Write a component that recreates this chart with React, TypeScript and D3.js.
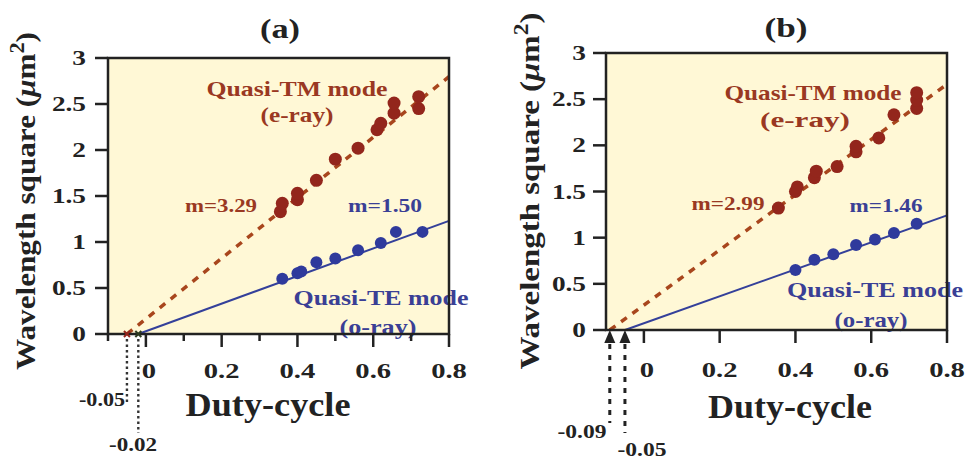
import React from "react";
import * as d3 from "d3";

const W = 967;
const H = 459;

// axis ticks
const xTicks = [0, 0.2, 0.4, 0.6, 0.8];
const xTickLabels = ["0", "0.2", "0.4", "0.6", "0.8"];
const xMinorTicksA = [-0.1, 0.1, 0.3, 0.5, 0.7];
const yTicks = [0, 0.5, 1, 1.5, 2, 2.5, 3];
const yTickLabels = ["0", "0.5", "1", "1.5", "2", "2.5", "3"];

// panel (a) data
const aTMx = [0.355, 0.36, 0.4, 0.4, 0.45, 0.5, 0.56, 0.61, 0.62, 0.655, 0.655, 0.72, 0.72];
const aTMy = [1.33, 1.42, 1.46, 1.53, 1.67, 1.9, 2.02, 2.22, 2.29, 2.4, 2.51, 2.45, 2.58];
const aTEx = [0.36, 0.4, 0.41, 0.45, 0.5, 0.56, 0.62, 0.66, 0.73];
const aTEy = [0.6, 0.66, 0.68, 0.78, 0.82, 0.91, 0.99, 1.11, 1.11];
const aFitTM = { x0: -0.05, m: 3.29 };
const aFitTE = { x0: -0.02, m: 1.5 };

// panel (b) data
const bTMx = [0.355, 0.4, 0.405, 0.45, 0.455, 0.51, 0.56, 0.56, 0.62, 0.66, 0.72, 0.72, 0.72];
const bTMy = [1.32, 1.5, 1.55, 1.65, 1.72, 1.77, 1.93, 1.99, 2.08, 2.33, 2.4, 2.49, 2.57];
const bTEx = [0.4, 0.45, 0.5, 0.56, 0.61, 0.66, 0.72];
const bTEy = [0.65, 0.76, 0.82, 0.92, 0.98, 1.05, 1.15];
const bFitTM = { x0: -0.09, m: 2.99 };
const bFitTE = { x0: -0.05, m: 1.46 };

const FONT = "Liberation Serif";
const C_TM_PT = "#93261c";
const C_TM_LINE = "#a8461d";
const C_TM_TXT = "#9a3822";
const C_TE_PT = "#2f3a9c";
const C_TE_LINE = "#34409a";
const C_TE_TXT = "#3a3f95";
const C_AX = "#222222";
const BG = "#fff8d6";

type Lab = { text: string; x: number; y: number; w: number; size: number; fill: string };

function T({ l }: { l: Lab }) {
  return (
    <text
      x={l.x}
      y={l.y}
      textAnchor="middle"
      fontFamily={FONT}
      fontWeight="bold"
      fontSize={l.size}
      fill={l.fill}
      textLength={l.w}
      lengthAdjust="spacingAndGlyphs"
    >
      {l.text}
    </text>
  );
}

type PanelProps = {
  left: number; right: number; top: number; bottom: number;
  tmx: number[]; tmy: number[]; tex: number[]; tey: number[];
  fitTM: { x0: number; m: number }; fitTE: { x0: number; m: number };
  minor: boolean;
  title: Lab; labels: Lab[]; xlab: Lab;
  ylab: { x: number; y: number; len: number };
  xLabY: number;
  yLabRight: number;
  marker: "dots" | "arrows";
  guideEnds: number[];
  guideLabels: Lab[];
};

function Panel(p: PanelProps) {
  const x = d3.scaleLinear().domain([-0.1, 0.8]).range([p.left, p.right]);
  const y = d3.scaleLinear().domain([0, 3]).range([p.bottom, p.top]);
  const line = d3.line<[number, number]>().x((d) => x(d[0])).y((d) => y(d[1]));
  const tmLine: [number, number][] = [
    [p.fitTM.x0, 0],
    [0.8, p.fitTM.m * (0.8 - p.fitTM.x0)],
  ];
  const teLine: [number, number][] = [
    [p.fitTE.x0, 0],
    [0.8, p.fitTE.m * (0.8 - p.fitTE.x0)],
  ];
  const intercepts = [p.fitTM.x0, p.fitTE.x0];
  return (
    <g>
      <rect x={p.left} y={p.top} width={p.right - p.left} height={p.bottom - p.top} fill={BG} />
      {/* fit lines */}
      <path d={line(teLine) || ""} stroke={C_TE_LINE} strokeWidth={2} fill="none" />
      <path
        d={line(tmLine) || ""}
        stroke={C_TM_LINE}
        strokeWidth={3.5}
        strokeDasharray="7 7"
        fill="none"
      />
      {/* points */}
      {p.tex.map((v, i) => (
        <circle key={"te" + i} cx={x(v)} cy={y(p.tey[i])} r={6} fill={C_TE_PT} />
      ))}
      {p.tmx.map((v, i) => (
        <circle key={"tm" + i} cx={x(v)} cy={y(p.tmy[i])} r={6.5} fill={C_TM_PT} />
      ))}
      {/* annotations */}
      {p.labels.map((l, i) => (
        <T key={"l" + i} l={l} />
      ))}
      {/* frame */}
      <rect
        x={p.left}
        y={p.top}
        width={p.right - p.left}
        height={p.bottom - p.top}
        fill="none"
        stroke={C_AX}
        strokeWidth={2.5}
      />
      {/* y ticks */}
      {yTicks.map((t, i) => (
        <g key={"yt" + i}>
          <line x1={p.left - 13} x2={p.left} y1={y(t)} y2={y(t)} stroke={C_AX} strokeWidth={2.5} />
          <text
            transform={`translate(${p.yLabRight},${y(t) + 7}) scale(1.3,1)`}
            textAnchor="end"
            fontFamily={FONT}
            fontWeight="bold"
            fontSize={21}
            fill={C_AX}
          >
            {yTickLabels[i]}
          </text>
        </g>
      ))}
      {/* x ticks */}
      {xTicks.map((t, i) => (
        <g key={"xt" + i}>
          <line x1={x(t)} x2={x(t)} y1={p.bottom} y2={p.bottom + 13} stroke={C_AX} strokeWidth={2.5} />
          <text
            transform={`translate(${x(t) + (i === 0 ? 3 : 0)},${p.xLabY}) scale(1.3,1)`}
            textAnchor="middle"
            fontFamily={FONT}
            fontWeight="bold"
            fontSize={22}
            fill={C_AX}
          >
            {xTickLabels[i]}
          </text>
        </g>
      ))}
      {p.minor &&
        xMinorTicksA.map((t, i) => (
          <line key={"mt" + i} x1={x(t)} x2={x(t)} y1={p.bottom} y2={p.bottom + 7} stroke={C_AX} strokeWidth={2.5} />
        ))}
      {/* intercept guides */}
      {intercepts.map((v, i) =>
        p.marker === "dots" ? (
          <g key={"g" + i}>
            <path
              d={`M${x(v) - 3},${p.bottom - 3}L${x(v) + 3},${p.bottom + 3}M${x(v) + 3},${p.bottom - 3}L${x(v) - 3},${p.bottom + 3}`}
              stroke={i === 0 ? C_TM_PT : "#2d3b20"}
              strokeWidth={2}
            />
            <line
              x1={x(v)}
              x2={x(v)}
              y1={p.bottom + 5}
              y2={p.guideEnds[i]}
              stroke="#333"
              strokeWidth={2.4}
              strokeDasharray="2.5 3"
            />
          </g>
        ) : (
          <g key={"g" + i}>
            <path
              d={`M${x(v)},${p.bottom}L${x(v) + 5.5},${p.bottom + 13}L${x(v) - 5.5},${p.bottom + 13}Z`}
              fill="#222"
            />
            <line
              x1={x(v)}
              x2={x(v)}
              y1={p.bottom + 14}
              y2={p.guideEnds[i]}
              stroke="#222"
              strokeWidth={3}
              strokeDasharray="5 6"
            />
          </g>
        )
      )}
      {p.guideLabels.map((l, i) => (
        <T key={"gl" + i} l={l} />
      ))}
      <T l={p.title} />
      <T l={p.xlab} />
      <text
        transform={`translate(${p.ylab.x},${p.ylab.y}) rotate(-90)`}
        textAnchor="middle"
        fontFamily={FONT}
        fontWeight="bold"
        fontSize={28}
        fill={C_AX}
        textLength={p.ylab.len}
        lengthAdjust="spacingAndGlyphs"
      >
        Wavelength square (<tspan fontStyle="italic">μ</tspan>m
        <tspan fontSize={20} dy={-11}>2</tspan>
        <tspan dy={11}>)</tspan>
      </text>
    </g>
  );
}

export default function App() {
  return (
    <svg
      width={W}
      height={H}
      style={{ position: "absolute", left: 0, top: 0, background: "#ffffff" }}
    >
      <Panel
        left={108}
        right={449}
        top={58}
        bottom={334}
        tmx={aTMx}
        tmy={aTMy}
        tex={aTEx}
        tey={aTEy}
        fitTM={aFitTM}
        fitTE={aFitTE}
        minor={true}
        title={{ text: "(a)", x: 280, y: 38, w: 40, size: 28, fill: C_AX }}
        xlab={{ text: "Duty-cycle", x: 268, y: 416, w: 165, size: 33, fill: C_AX }}
        ylab={{ x: 35, y: 201, len: 338 }}
        xLabY={378}
        yLabRight={86}
        labels={[
          { text: "Quasi-TM mode", x: 297, y: 96, w: 181, size: 21, fill: C_TM_TXT },
          { text: "(e-ray)", x: 297, y: 122, w: 73, size: 21, fill: C_TM_TXT },
          { text: "m=3.29", x: 221, y: 212, w: 72, size: 19, fill: C_TM_TXT },
          { text: "m=1.50", x: 385, y: 212, w: 74, size: 19, fill: C_TE_TXT },
          { text: "Quasi-TE mode", x: 381, y: 305, w: 175, size: 21, fill: C_TE_TXT },
          { text: "(o-ray)", x: 378, y: 334, w: 77, size: 21, fill: C_TE_TXT },
        ]}
        marker="dots"
        guideEnds={[403, 433]}
        guideLabels={[
          { text: "-0.05", x: 102, y: 406, w: 46, size: 18, fill: C_AX },
          { text: "-0.02", x: 133, y: 451, w: 48, size: 18, fill: C_AX },
        ]}
      />
      <Panel
        left={606}
        right={947}
        top={53}
        bottom={330}
        tmx={bTMx}
        tmy={bTMy}
        tex={bTEx}
        tey={bTEy}
        fitTM={bFitTM}
        fitTE={bFitTE}
        minor={false}
        title={{ text: "(b)", x: 786, y: 37, w: 43, size: 28, fill: C_AX }}
        xlab={{ text: "Duty-cycle", x: 790, y: 418, w: 164, size: 33, fill: C_AX }}
        ylab={{ x: 539, y: 191, len: 357 }}
        xLabY={377}
        yLabRight={586}
        labels={[
          { text: "Quasi-TM mode", x: 813, y: 100, w: 177, size: 21, fill: C_TM_TXT },
          { text: "(e-ray)", x: 805, y: 127, w: 90, size: 21, fill: C_TM_TXT },
          { text: "m=2.99", x: 728, y: 210, w: 73, size: 19, fill: C_TM_TXT },
          { text: "m=1.46", x: 886, y: 212, w: 73, size: 19, fill: C_TE_TXT },
          { text: "Quasi-TE mode", x: 875, y: 297, w: 176, size: 21, fill: C_TE_TXT },
          { text: "(o-ray)", x: 871, y: 327, w: 73, size: 21, fill: C_TE_TXT },
        ]}
        marker="arrows"
        guideEnds={[423, 433]}
        guideLabels={[
          { text: "-0.09", x: 582, y: 438, w: 49, size: 18, fill: C_AX },
          { text: "-0.05", x: 642, y: 456, w: 49, size: 18, fill: C_AX },
        ]}
      />
    </svg>
  );
}
